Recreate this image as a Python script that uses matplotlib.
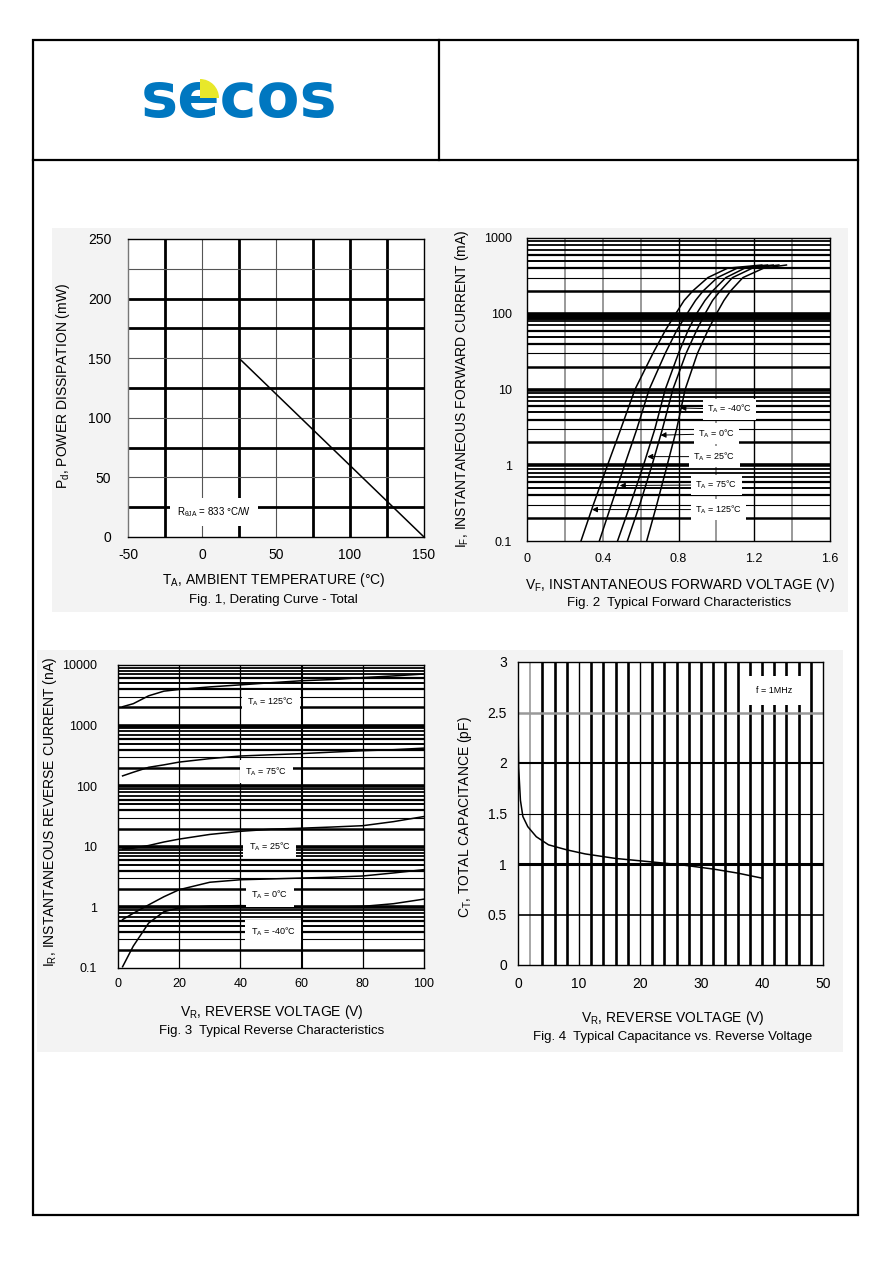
import matplotlib
matplotlib.use('Agg')
import matplotlib.pyplot as plt
from matplotlib.patches import Rectangle, Wedge
from matplotlib.ticker import FixedLocator, FixedFormatter, NullLocator

plt.rcParams['font.family'] = ['Liberation Sans', 'DejaVu Sans']
plt.rcParams['mathtext.fontset'] = 'custom'
plt.rcParams['mathtext.rm'] = 'Liberation Sans'
plt.rcParams['mathtext.it'] = 'Liberation Sans'
plt.rcParams['axes.unicode_minus'] = False

# ---- Fig 1: derating curve
temp_c = [25, 150]
power_mw = [150, 0]

# ---- Fig 2: forward characteristics (V at given current)
if_ma = [0.1, 0.3, 1, 3, 10, 30, 60, 100, 150, 200, 300, 400, 440]
vf_125 = [0.285, 0.35, 0.425, 0.495, 0.57, 0.665, 0.73, 0.785, 0.83, 0.875, 0.955, 1.06, 1.24]
vf_75 = [0.382, 0.445, 0.515, 0.58, 0.645, 0.73, 0.79, 0.845, 0.89, 0.93, 1.005, 1.11, 1.27]
vf_25 = [0.478, 0.545, 0.615, 0.675, 0.73, 0.80, 0.85, 0.895, 0.94, 0.98, 1.05, 1.15, 1.30]
vf_0 = [0.53, 0.595, 0.66, 0.715, 0.77, 0.84, 0.895, 0.94, 0.98, 1.02, 1.085, 1.19, 1.33]
vf_m40 = [0.632, 0.685, 0.74, 0.79, 0.835, 0.90, 0.955, 1.0, 1.04, 1.075, 1.14, 1.25, 1.37]
fwd_labels = ['T$_\\mathregular{A}$ = -40°C', 'T$_\\mathregular{A}$ = 0°C', 'T$_\\mathregular{A}$ = 25°C',
              'T$_\\mathregular{A}$ = 75°C', 'T$_\\mathregular{A}$ = 125°C']
fwd_tip_v = [0.81, 0.705, 0.635, 0.49, 0.343]
fwd_tip_i = [5.7, 2.5, 1.3, 0.54, 0.26]
fwd_lab_v = [1.07, 1.0, 0.99, 1.0, 1.01]
fwd_lab_i = [5.5, 2.6, 1.3, 0.55, 0.26]

# ---- Fig 3: reverse characteristics
vr = [1.5, 5, 10, 15, 20, 30, 40, 50, 60, 70, 80, 90, 100]
ir_125 = [2050, 2300, 3100, 3700, 3950, 4350, 4700, 5100, 5500, 5750, 6200, 6600, 7100]
ir_75 = [148, 170, 205, 225, 250, 285, 315, 330, 345, 365, 385, 400, 425]
ir_25 = [9.2, 9.5, 10.5, 12, 13.4, 16, 18, 19.5, 20.3, 21.2, 22.3, 26, 31.6]
ir_0 = [0.63, 0.8, 1.1, 1.5, 1.96, 2.6, 2.86, 2.95, 3.05, 3.15, 3.3, 3.7, 4.2]
ir_m40 = [0.105, 0.23, 0.55, 0.85, 0.98, 1.05, 1.07, 1.04, 1.02, 1.01, 1.04, 1.15, 1.37]
rev_labels = ['T$_\\mathregular{A}$ = 125°C', 'T$_\\mathregular{A}$ = 75°C', 'T$_\\mathregular{A}$ = 25°C',
              'T$_\\mathregular{A}$ = 0°C', 'T$_\\mathregular{A}$ = -40°C']
rev_lab_v = [50, 48.5, 49.6, 49.6, 50.7]
rev_lab_i = [2490, 174, 10.1, 1.62, 0.40]

# ---- Fig 4: capacitance
vr_cap = [0, 0.1, 0.4, 0.8, 1.6, 3, 5, 8, 11, 16, 22, 27, 32, 36, 40]
ct_pf = [2.5, 1.96, 1.63, 1.47, 1.37, 1.27, 1.19, 1.14, 1.10, 1.055, 1.02, 0.99, 0.95, 0.91, 0.86]

W, H = 892, 1263
fig = plt.figure(figsize=(W / 100, H / 100), dpi=100)

# page decoration
bg = fig.add_axes([0, 0, 1, 1], zorder=-10)
bg.set_xlim(0, W)
bg.set_ylim(H, 0)
bg.axis('off')
bg.add_patch(Rectangle((52, 228), 796, 384, fc='#f3f3f3', ec='none'))
bg.add_patch(Rectangle((37, 650), 806, 402, fc='#f3f3f3', ec='none'))
bg.add_patch(Rectangle((33, 40), 825, 1175, fill=False, ec='black', lw=1.6))
bg.plot([33, 858], [160, 160], color='black', lw=1.6)
bg.plot([439, 439], [40, 160], color='black', lw=1.6)
bg.text(141, 117, 'secos', fontsize=45, fontweight='bold', color='#0077c0',
        family='DejaVu Sans', va='baseline')
bg.add_patch(Wedge((200, 98), 19, 270, 360, fc='#e8e82a', ec='none', zorder=5))


def rect(l, t, r, b):
    return [l / W, 1 - b / H, (r - l) / W, (b - t) / H]


def ftext(x, y, s, **kw):
    fig.text(x / W, 1 - y / H, s, ha='center', va='center', **kw)


def style(ax, size, padx, pady):
    ax.tick_params(length=0, labelsize=size)
    ax.tick_params(axis='x', pad=padx)
    ax.tick_params(axis='y', pad=pady)
    for s in ax.spines.values():
        s.set_linewidth(1.0)


def log_grid(ax, lo, hi):
    widths = {1: 2.6, 2: 1.8, 3: 0.8, 4: 1.6, 5: 1.4, 6: 1.6, 7: 1.3, 8: 1.3, 9: 1.3}
    d = lo
    while d < hi:
        for m in range(1, 10):
            v = m * d
            if v <= lo or v >= hi:
                continue
            ax.axhline(v, color='black', lw=widths[m], zorder=0.5)
        d *= 10


# ---------------- Fig 1
ax1 = fig.add_axes(rect(128, 239, 424, 537))
ax1.set_xlim(-50, 150)
ax1.set_ylim(0, 250)
ax1.xaxis.set_major_locator(FixedLocator([-50, 0, 50, 100, 150]))
ax1.yaxis.set_major_locator(FixedLocator([0, 50, 100, 150, 200, 250]))
style(ax1, 10, 8, 12)
heavy_x = [-25, 25, 75, 100, 125]
for x in [-25, 0, 25, 50, 75, 100, 125]:
    ax1.axvline(x, color='black' if x in heavy_x else '#555555',
                lw=2.0 if x in heavy_x else 0.8, zorder=0.5)
heavy_y = [25, 75, 125, 175, 200]
for y in [25, 50, 75, 100, 125, 150, 175, 200, 225]:
    ax1.axhline(y, color='black' if y in heavy_y else '#555555',
                lw=2.0 if y in heavy_y else 0.8, zorder=0.5)
ax1.spines['left'].set_color('#777777')
ax1.plot(temp_c, power_mw, color='black', lw=1.1, zorder=3)
ax1.text(8, 21, 'R$_{\\mathregular{\\theta JA}}$ = 833 °C/W', fontsize=7, ha='center', va='center',
         zorder=4, bbox=dict(fc='white', ec='none', pad=5))
ftext(274, 580, 'T$_\\mathregular{A}$, AMBIENT TEMPERATURE (°C)', fontsize=10)
ftext(273, 600, 'Fig. 1, Derating Curve - Total', fontsize=9.5)
ftext(63, 386, 'P$_\\mathregular{d}$, POWER DISSIPATION (mW)', fontsize=10, rotation=90)

# ---------------- Fig 2
ax2 = fig.add_axes(rect(527, 238, 830, 541))
ax2.set_yscale('log')
ax2.set_xlim(0, 1.6)
ax2.set_ylim(0.1, 1000)
ax2.xaxis.set_major_locator(FixedLocator([0, 0.4, 0.8, 1.2, 1.6]))
ax2.xaxis.set_major_formatter(FixedFormatter(['0', '0.4', '0.8', '1.2', '1.6']))
ax2.yaxis.set_major_locator(FixedLocator([0.1, 1, 10, 100, 1000]))
ax2.yaxis.set_major_formatter(FixedFormatter(['0.1', '1', '10', '100', '1000']))
ax2.yaxis.set_minor_locator(NullLocator())
style(ax2, 9, 9, 11)
for x in [0.2, 0.4, 0.6, 0.8, 1.0, 1.2, 1.4]:
    dark = x in (0.8, 1.2)
    ax2.axvline(x, color='black' if dark else '#888888', lw=1.0 if dark else 1.2, zorder=0.5)
log_grid(ax2, 0.1, 1000)
ax2.axhline(92, color='black', lw=5, zorder=0.5)
for vf in [vf_125, vf_75, vf_25, vf_0, vf_m40]:
    ax2.plot(vf, if_ma, color='black', lw=1.1, zorder=3)
for lab, tv, ti, lv, li in zip(fwd_labels, fwd_tip_v, fwd_tip_i, fwd_lab_v, fwd_lab_i):
    ax2.annotate(lab, xy=(tv, ti), xytext=(lv, li), fontsize=6.5, ha='center', va='center',
                 zorder=4, bbox=dict(fc='white', ec='none', pad=3),
                 arrowprops=dict(arrowstyle='-|>', color='black', lw=0.7, mutation_scale=8,
                                 shrinkA=0, shrinkB=0))
ftext(680, 585, 'V$_\\mathregular{F}$, INSTANTANEOUS FORWARD VOLTAGE (V)', fontsize=10)
ftext(679, 603, 'Fig. 2  Typical Forward Characteristics', fontsize=9.5)
ftext(462, 389, 'I$_\\mathregular{F}$, INSTANTANEOUS FORWARD CURRENT (mA)', fontsize=10, rotation=90)

# ---------------- Fig 3
ax3 = fig.add_axes(rect(118, 665, 424, 968))
ax3.set_yscale('log')
ax3.set_xlim(0, 100)
ax3.set_ylim(0.1, 10000)
ax3.xaxis.set_major_locator(FixedLocator([0, 20, 40, 60, 80, 100]))
ax3.yaxis.set_major_locator(FixedLocator([0.1, 1, 10, 100, 1000, 10000]))
ax3.yaxis.set_major_formatter(FixedFormatter(['0.1', '1', '10', '100', '1000', '10000']))
ax3.yaxis.set_minor_locator(NullLocator())
style(ax3, 9, 7, 15)
for x in [20, 40, 60, 80]:
    ax3.axvline(x, color='black', lw=1.5 if x == 60 else 0.9, zorder=0.5)
log_grid(ax3, 0.1, 10000)
for ir in [ir_125, ir_75, ir_25, ir_0, ir_m40]:
    ax3.plot(vr, ir, color='black', lw=1.1, zorder=3)
for lab, lv, li in zip(rev_labels, rev_lab_v, rev_lab_i):
    ax3.text(lv, li, lab, fontsize=6.5, ha='center', va='center', zorder=4,
             bbox=dict(fc='white', ec='none', pad=4))
ftext(272, 1012, 'V$_\\mathregular{R}$, REVERSE VOLTAGE (V)', fontsize=10)
ftext(272, 1031, 'Fig. 3  Typical Reverse Characteristics', fontsize=9.5)
ftext(50, 812, 'I$_\\mathregular{R}$, INSTANTANEOUS REVERSE CURRENT (nA)', fontsize=10, rotation=90)

# ---------------- Fig 4
ax4 = fig.add_axes(rect(518, 662, 823, 965))
ax4.set_xlim(0, 50)
ax4.set_ylim(0, 3)
ax4.xaxis.set_major_locator(FixedLocator([0, 10, 20, 30, 40, 50]))
ax4.yaxis.set_major_locator(FixedLocator([0, 0.5, 1, 1.5, 2, 2.5, 3]))
ax4.yaxis.set_major_formatter(FixedFormatter(['0', '0.5', '1', '1.5', '2', '2.5', '3']))
style(ax4, 10, 9, 8)
for x in range(2, 50, 2):
    if x == 2:
        ax4.axvline(x, color='#999999', lw=1.2, zorder=0.5)
    elif x in (10, 20):
        ax4.axvline(x, color='black', lw=1.0, zorder=0.5)
    else:
        ax4.axvline(x, color='black', lw=1.9, zorder=0.5)
ax4.axhline(0.5, color='black', lw=1.2, zorder=0.5)
ax4.axhline(1.0, color='black', lw=2.2, zorder=0.5)
ax4.axhline(1.5, color='black', lw=0.8, zorder=0.5)
ax4.axhline(2.0, color='black', lw=1.5, zorder=0.5)
ax4.axhline(2.5, color='#999999', lw=1.8, zorder=0.5)
ax4.plot(vr_cap, ct_pf, color='black', lw=1.1, zorder=3)
ax4.text(42, 2.72, 'f = 1MHz', fontsize=6.5, ha='center', va='center', zorder=4,
         bbox=dict(fc='white', ec='none', pad=7))
ftext(673, 1018, 'V$_\\mathregular{R}$, REVERSE VOLTAGE (V)', fontsize=10)
ftext(673, 1037, 'Fig. 4  Typical Capacitance vs. Reverse Voltage', fontsize=9.5)
ftext(465, 817, 'C$_\\mathregular{T}$, TOTAL CAPACITANCE (pF)', fontsize=10, rotation=90)

fig.savefig('out.png', dpi=100)
